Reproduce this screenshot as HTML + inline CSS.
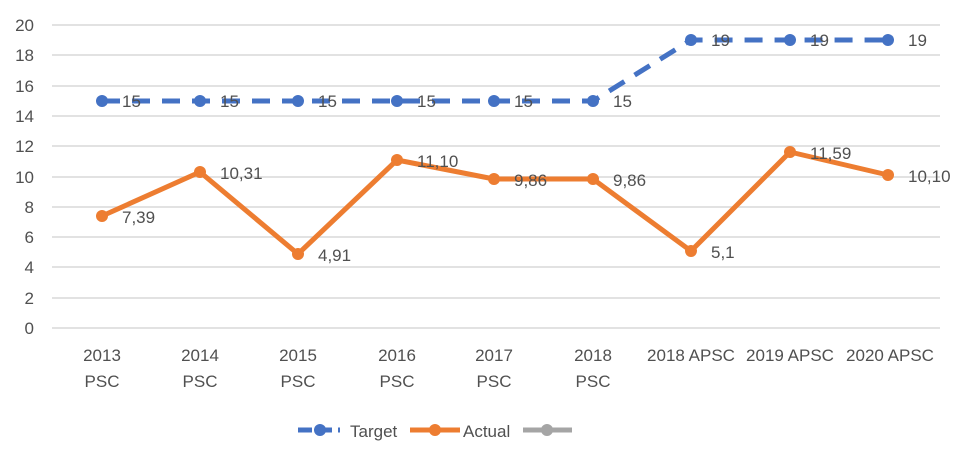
<!DOCTYPE html>
<html><head><meta charset="utf-8"><style>body{margin:0;background:#fff}svg{display:block}text{font-family:"Liberation Sans",sans-serif;fill:#505050;font-size:17px}</style></head><body>
<svg width="964" height="454" xmlns="http://www.w3.org/2000/svg">
<g stroke="#d9d9d9" stroke-width="1.5">
<line x1="52" x2="940" y1="328" y2="328"/><line x1="52" x2="940" y1="298" y2="298"/><line x1="52" x2="940" y1="267" y2="267"/><line x1="52" x2="940" y1="237" y2="237"/><line x1="52" x2="940" y1="207" y2="207"/><line x1="52" x2="940" y1="177" y2="177"/><line x1="52" x2="940" y1="146" y2="146"/><line x1="52" x2="940" y1="116" y2="116"/><line x1="52" x2="940" y1="86" y2="86"/><line x1="52" x2="940" y1="55" y2="55"/><line x1="52" x2="940" y1="25" y2="25"/>
</g>
<g text-anchor="end">
<text x="34" y="334">0</text><text x="34" y="304">2</text><text x="34" y="273">4</text><text x="34" y="243">6</text><text x="34" y="213">8</text><text x="34" y="183">10</text><text x="34" y="152">12</text><text x="34" y="122">14</text><text x="34" y="92">16</text><text x="34" y="61">18</text><text x="34" y="31">20</text>
</g>
<polyline points="102,101 200,101 298,101 397,101 494,101 593,101 691,40 790,40 888,40" fill="none" stroke="#4472c4" stroke-width="5" stroke-dasharray="18,12"/>
<g fill="#4472c4"><circle cx="102" cy="101" r="6"/><circle cx="200" cy="101" r="6"/><circle cx="298" cy="101" r="6"/><circle cx="397" cy="101" r="6"/><circle cx="494" cy="101" r="6"/><circle cx="593" cy="101" r="6"/><circle cx="691" cy="40" r="6"/><circle cx="790" cy="40" r="6"/><circle cx="888" cy="40" r="6"/></g>
<g><text x="122" y="107">15</text><text x="220" y="107">15</text><text x="318" y="107">15</text><text x="417" y="107">15</text><text x="514" y="107">15</text><text x="613" y="107">15</text><text x="711" y="46">19</text><text x="810" y="46">19</text><text x="908" y="46">19</text></g>
<polyline points="102,216 200,172 298,254 397,160 494,179 593,179 691,251 790,152 888,175" fill="none" stroke="#ed7d31" stroke-width="5" stroke-linejoin="round"/>
<g fill="#ed7d31"><circle cx="102" cy="216" r="6"/><circle cx="200" cy="172" r="6"/><circle cx="298" cy="254" r="6"/><circle cx="397" cy="160" r="6"/><circle cx="494" cy="179" r="6"/><circle cx="593" cy="179" r="6"/><circle cx="691" cy="251" r="6"/><circle cx="790" cy="152" r="6"/><circle cx="888" cy="175" r="6"/></g>
<g><text x="122" y="223">7,39</text><text x="220" y="179">10,31</text><text x="318" y="261">4,91</text><text x="417" y="167">11,10</text><text x="514" y="186">9,86</text><text x="613" y="186">9,86</text><text x="711" y="258">5,1</text><text x="810" y="159">11,59</text><text x="908" y="182">10,10</text></g>
<g text-anchor="middle">
<text x="102" y="361">2013</text><text x="102" y="387">PSC</text>
<text x="200" y="361">2014</text><text x="200" y="387">PSC</text>
<text x="298" y="361">2015</text><text x="298" y="387">PSC</text>
<text x="397" y="361">2016</text><text x="397" y="387">PSC</text>
<text x="494" y="361">2017</text><text x="494" y="387">PSC</text>
<text x="593" y="361">2018</text><text x="593" y="387">PSC</text>
<text x="691" y="361">2018 APSC</text><text x="790" y="361">2019 APSC</text><text x="890" y="361">2020  APSC</text>
</g>
<line x1="298" x2="340" y1="430" y2="430" stroke="#4472c4" stroke-width="5" stroke-dasharray="14,6"/><circle cx="320" cy="430" r="6" fill="#4472c4"/>
<text x="350" y="437">Target</text>
<line x1="410" x2="460" y1="430" y2="430" stroke="#ed7d31" stroke-width="5"/><circle cx="435" cy="430" r="6" fill="#ed7d31"/>
<text x="463" y="437">Actual</text>
<line x1="523" x2="572" y1="430" y2="430" stroke="#a5a5a5" stroke-width="5"/><circle cx="547" cy="430" r="6" fill="#a5a5a5"/>
</svg>
</body></html>
